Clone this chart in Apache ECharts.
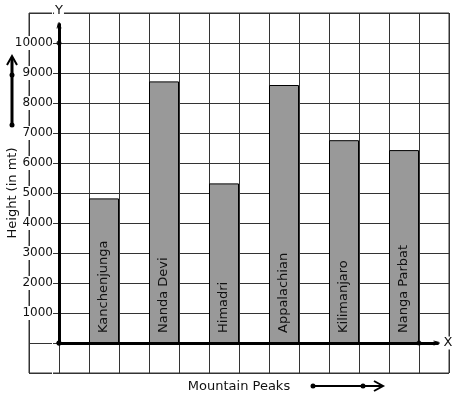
<!DOCTYPE html>
<html>
<head>
<meta charset="utf-8">
<script src="https://cdn.jsdelivr.net/npm/echarts@6/dist/echarts.min.js"></script>
<style>
  html, body { margin: 0; padding: 0; background: #fff; }
  #chart { width: 457px; height: 399px; }
</style>
</head>
<body>
<div id="chart"></div>
<script>
// mountain peaks and their heights (in mt)
const peaks = ["Kanchenjunga", "Nanda Devi", "Himadri", "Appalachian", "Kilimanjaro", "Nanga Parbat"];
const heights = [4820, 8720, 5320, 8600, 6760, 6430];
// y tick labels that are written on the axis
const yLabels = [1000, 2000, 3000, 4000, 5000, 6000, 7000, 8000, 9000, 10000];

const font = "DejaVu Sans";
const chevron = "path://M0,10 L5,0 L10,10 L8,10 L5,3.6 L2,10 Z";

const chart = echarts.init(document.getElementById("chart"));

// every bar sits in every other grid cell, starting at the second cell
const barData = peaks.map((name, i) => ({ name: name, value: [1.5 + 2 * i, heights[i]] }));

chart.setOption({
  animation: false,
  grid: {
    left: 29, top: 13, width: 420, height: 360,
    outerBoundsMode: "none",
    containLabel: false,
    show: true, borderColor: "#333", borderWidth: 1
  },
  xAxis: {
    type: "value",
    min: -1, max: 13, interval: 1,
    axisLine: { show: false },
    axisTick: { show: false },
    axisLabel: { show: false },
    splitLine: { lineStyle: { color: "#333", width: 1 } },
    name: "Mountain Peaks",
    nameLocation: "middle",
    nameGap: 7,
    nameMoveOverlap: false,
    nameTextStyle: { fontFamily: font, fontSize: 13, color: "#111" }
  },
  yAxis: {
    type: "value",
    min: -1000, max: 11000, interval: 1000,
    offset: -30,
    axisLine: { show: false, onZero: false },
    axisTick: { show: false },
    axisLabel: {
      fontFamily: font, fontSize: 12, color: "#111", margin: 6,
      backgroundColor: "#fff", padding: [1, 0, 1, 1],
      formatter: v => (yLabels.indexOf(v) >= 0 ? String(v) : "")
    },
    splitLine: { lineStyle: { color: "#333", width: 1 } },
    name: "Height (in mt)",
    nameLocation: "middle",
    nameGap: 40,
    nameMoveOverlap: false,
    nameTextStyle: { fontFamily: font, fontSize: 13, color: "#111" }
  },
  graphic: [
    // arrow beside the y axis title
    { type: "line", shape: { x1: 12, y1: 125, x2: 12, y2: 58 }, style: { stroke: "#000", lineWidth: 3 } },
    { type: "polyline", shape: { points: [[7, 65], [12, 56], [17, 65]] }, style: { stroke: "#000", lineWidth: 2, fill: null } },
    { type: "circle", shape: { cx: 12, cy: 125, r: 2.5 }, style: { fill: "#000" } },
    { type: "circle", shape: { cx: 12, cy: 75, r: 2.5 }, style: { fill: "#000" } },
    // arrow beside the x axis title
    { type: "line", shape: { x1: 313, y1: 386, x2: 382, y2: 386 }, style: { stroke: "#000", lineWidth: 2 } },
    { type: "polyline", shape: { points: [[374, 381], [383, 386], [374, 391]] }, style: { stroke: "#000", lineWidth: 2, fill: null } },
    { type: "circle", shape: { cx: 313, cy: 386, r: 2.5 }, style: { fill: "#000" } },
    { type: "circle", shape: { cx: 363, cy: 386, r: 2.5 }, style: { fill: "#000" } }
  ],
  series: [
    {
      type: "bar",
      barWidth: 30,
      data: barData,
      itemStyle: { color: "#999", borderColor: "#000", borderWidth: 1 },
      label: {
        show: true,
        position: "insideBottom",
        distance: 10,
        rotate: 90,
        align: "left",
        verticalAlign: "middle",
        fontFamily: font,
        fontSize: 13,
        color: "#111",
        formatter: p => p.name
      },
      markLine: {
        silent: true,
        symbol: ["circle", chevron],
        symbolSize: [5, 10],
        lineStyle: { color: "#000", width: 3, type: "solid" },
        label: {
          show: true,
          position: "end",
          distance: 1,
          fontFamily: font,
          fontSize: 13,
          color: "#111",
          backgroundColor: "#fff"
        },
        data: [
          [{ coord: [0, 0], label: { formatter: "Y", padding: [0, 1, 5, 1] } }, { coord: [0, 10650] }],
          [{ coord: [0, 0], label: { formatter: "X", padding: [0, 1, 0, 4] } }, { coord: [12.65, 0] }]
        ]
      }
    },
    {
      // dots on the axes
      type: "scatter",
      symbolSize: 5,
      itemStyle: { color: "#000" },
      data: [[0, 10000], [12, 0]],
      z: 5
    }
  ]
});
</script>
</body>
</html>
